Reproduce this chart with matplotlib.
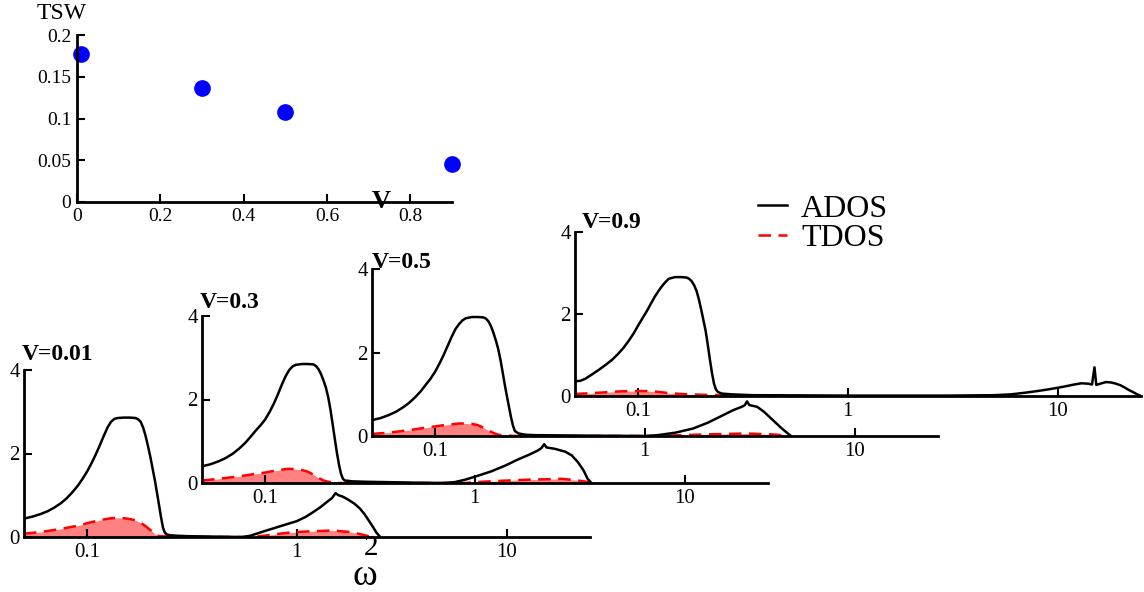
import matplotlib
matplotlib.use("Agg")
import matplotlib.pyplot as plt
from matplotlib.lines import Line2D
from matplotlib.ticker import FixedLocator, NullLocator

plt.rcParams['font.family'] = ['Liberation Serif', 'DejaVu Serif']

# ---- TSW vs V ----
v_vals = [0.01, 0.3, 0.5, 0.9]
tsw_vals = [0.177, 0.136, 0.108, 0.045]

# ---- V = 0.01 ----
w_ados_001 = [0.05, 0.055, 0.06, 0.065, 0.07, 0.075, 0.08, 0.085, 0.09, 0.095, 0.1, 0.105, 0.11,
              0.115, 0.12, 0.125, 0.13, 0.135, 0.14, 0.15, 0.16, 0.17, 0.175, 0.18, 0.185, 0.19,
              0.195, 0.2, 0.205, 0.21, 0.215, 0.22, 0.225, 0.23, 0.235, 0.24, 0.25, 0.27, 0.3, 0.4,
              0.55, 0.6, 0.7, 0.8, 0.9, 1.0, 1.1, 1.2, 1.3, 1.4, 1.47, 1.53, 1.58, 1.65, 1.75, 1.88,
              2.0, 2.1, 2.2, 2.3, 2.4, 2.5]
ados_001 = [0.44, 0.49, 0.55, 0.62, 0.71, 0.81, 0.93, 1.07, 1.22, 1.39, 1.57, 1.77, 1.98,
            2.2, 2.42, 2.62, 2.76, 2.83, 2.85, 2.86, 2.86, 2.85, 2.82, 2.76, 2.62, 2.42,
            2.18, 1.93, 1.65, 1.38, 1.08, 0.78, 0.48, 0.22, 0.1, 0.06, 0.04, 0.03, 0.02, 0.01,
            0.0, 0.03, 0.14, 0.23, 0.31, 0.38, 0.48, 0.6, 0.72, 0.85, 0.93, 1.05, 1.0, 0.97, 0.9, 0.8,
            0.68, 0.55, 0.4, 0.25, 0.1, 0.0]
w_tdos_001 = [0.05, 0.06, 0.07, 0.08, 0.09, 0.1, 0.11, 0.12, 0.13, 0.14, 0.15, 0.16, 0.17, 0.18,
              0.19, 0.2, 0.21, 0.22, 0.3, 0.6, 0.7, 0.8, 0.9, 1.0, 1.2, 1.4, 1.5, 1.6, 1.8, 2.0,
              2.2, 2.35]
tdos_001 = [0.08, 0.12, 0.17, 0.22, 0.27, 0.33, 0.38, 0.42, 0.45, 0.46, 0.45, 0.43, 0.4, 0.34,
            0.26, 0.17, 0.08, 0.02, 0.0, 0.0, 0.03, 0.07, 0.1, 0.12, 0.14, 0.15, 0.16, 0.14, 0.12, 0.07,
            0.02, 0.0]

# ---- V = 0.3 ----
w_ados_03 = [0.05, 0.055, 0.06, 0.065, 0.07, 0.075, 0.08, 0.085, 0.09, 0.095, 0.1, 0.105, 0.11,
             0.115, 0.12, 0.125, 0.13, 0.135, 0.14, 0.15, 0.16, 0.17, 0.175, 0.18, 0.185, 0.19,
             0.195, 0.2, 0.205, 0.21, 0.215, 0.22, 0.225, 0.23, 0.235, 0.24, 0.26, 0.3, 0.5, 0.7,
             0.8, 0.9, 1.0, 1.2, 1.4, 1.6, 1.8, 2.0, 2.08, 2.14, 2.2, 2.4, 2.7, 2.9, 3.1, 3.3,
             3.45, 3.6]
ados_03 = [0.4, 0.45, 0.52, 0.6, 0.7, 0.82, 0.95, 1.1, 1.25, 1.38, 1.52, 1.7, 1.9,
           2.12, 2.35, 2.55, 2.7, 2.79, 2.83, 2.85, 2.85, 2.84, 2.8, 2.72, 2.6, 2.45,
           2.28, 2.05, 1.75, 1.4, 1.05, 0.72, 0.44, 0.22, 0.1, 0.06, 0.04, 0.03, 0.01, 0.0,
           0.02, 0.08, 0.15, 0.28, 0.42, 0.56, 0.67, 0.78, 0.84, 0.93, 0.85, 0.82, 0.75, 0.66, 0.5, 0.3,
           0.1, 0.0]
w_tdos_03 = [0.05, 0.06, 0.07, 0.08, 0.09, 0.1, 0.11, 0.12, 0.13, 0.14, 0.15, 0.16, 0.17, 0.18,
             0.19, 0.2, 0.22, 0.9, 1.0, 1.3, 1.8, 2.2, 2.6, 3.0, 3.4, 3.6]
tdos_03 = [0.06, 0.1, 0.14, 0.18, 0.22, 0.25, 0.29, 0.32, 0.34, 0.33, 0.31, 0.27, 0.2, 0.12,
           0.06, 0.03, 0.0, 0.0, 0.02, 0.05, 0.08, 0.09, 0.1, 0.07, 0.03, 0.0]

# ---- V = 0.5 ----
w_ados_05 = [0.05, 0.055, 0.06, 0.065, 0.07, 0.075, 0.08, 0.085, 0.09, 0.095, 0.1, 0.105, 0.11,
             0.115, 0.12, 0.125, 0.13, 0.135, 0.14, 0.15, 0.16, 0.17, 0.175, 0.18, 0.185, 0.19,
             0.195, 0.2, 0.205, 0.21, 0.215, 0.22, 0.225, 0.23, 0.235, 0.24, 0.25, 0.27, 0.3, 0.5,
             1.0, 1.15, 1.4, 1.7, 2.0, 2.3, 2.64, 2.9, 3.0, 3.07, 3.15, 3.43, 3.7, 4.08, 4.5, 4.97]
ados_05 = [0.38, 0.43, 0.5, 0.58, 0.68, 0.79, 0.92, 1.06, 1.22, 1.37, 1.54, 1.74, 1.95,
           2.17, 2.38, 2.56, 2.68, 2.77, 2.82, 2.85, 2.85, 2.84, 2.81, 2.74, 2.62, 2.46,
           2.28, 2.08, 1.82, 1.52, 1.22, 0.95, 0.7, 0.45, 0.25, 0.12, 0.06, 0.03, 0.02, 0.01,
           0.0, 0.02, 0.08, 0.18, 0.32, 0.47, 0.62, 0.7, 0.74, 0.83, 0.74, 0.7, 0.58, 0.38, 0.18, 0.0]
w_tdos_05 = [0.05, 0.06, 0.07, 0.08, 0.09, 0.1, 0.11, 0.12, 0.13, 0.14, 0.15, 0.16, 0.17, 0.18,
             0.19, 0.2, 0.22, 0.25, 1.1, 1.5, 2.0, 2.5, 3.0, 4.0, 4.8, 5.0]
tdos_05 = [0.05, 0.08, 0.12, 0.16, 0.2, 0.23, 0.26, 0.28, 0.3, 0.3, 0.29, 0.26, 0.2, 0.13,
           0.07, 0.03, 0.01, 0.0, 0.0, 0.02, 0.04, 0.05, 0.06, 0.04, 0.01, 0.0]

# ---- V = 0.9 ----
w_ados_09 = [0.05, 0.053, 0.056, 0.06, 0.065, 0.07, 0.075, 0.08, 0.085, 0.09, 0.095, 0.1, 0.105,
             0.11, 0.115, 0.12, 0.125, 0.13, 0.135, 0.14, 0.15, 0.16, 0.17, 0.175, 0.18, 0.185,
             0.19, 0.195, 0.2, 0.205, 0.21, 0.215, 0.22, 0.225, 0.23, 0.235, 0.24, 0.25, 0.28, 0.35,
             1.0, 3.0, 5.0, 6.0, 7.0, 8.0, 9.0, 10.0, 11.0, 12.0, 13.0, 14.0, 14.6, 15.0, 15.3,
             16.0, 17.0, 18.0, 19.0, 20.0, 21.0, 22.0, 23.0, 24.0, 25.0]
ados_09 = [0.36, 0.37, 0.42, 0.52, 0.64, 0.76, 0.88, 1.02, 1.17, 1.34, 1.52, 1.72, 1.9,
           2.07, 2.25, 2.42, 2.56, 2.68, 2.78, 2.86, 2.9, 2.9, 2.89, 2.86, 2.8, 2.7,
           2.56, 2.35, 2.1, 1.84, 1.58, 1.24, 0.88, 0.56, 0.3, 0.16, 0.1, 0.06, 0.04, 0.02,
           0.01, 0.01, 0.02, 0.04, 0.08, 0.12, 0.16, 0.2, 0.24, 0.28, 0.31, 0.3, 0.28, 0.7, 0.27,
           0.3, 0.34, 0.33, 0.3, 0.26, 0.2, 0.14, 0.09, 0.04, 0.0]
w_tdos_09 = [0.05, 0.06, 0.07, 0.08, 0.09, 0.1, 0.11, 0.12, 0.13, 0.14, 0.16, 0.18, 0.2, 0.25,
             0.3, 0.6]
tdos_09 = [0.05, 0.07, 0.09, 0.11, 0.12, 0.12, 0.12, 0.11, 0.09, 0.07, 0.05, 0.04, 0.03, 0.02,
           0.01, 0.0]

panel_labels = ["V=0.01", "V=0.3", "V=0.5", "V=0.9"]
panels = [
    (w_ados_001, ados_001, w_tdos_001, tdos_001),
    (w_ados_03, ados_03, w_tdos_03, tdos_03),
    (w_ados_05, ados_05, w_tdos_05, tdos_05),
    (w_ados_09, ados_09, w_tdos_09, tdos_09),
]

W, H = 1144, 592


def px_axes(left, right, bottom, top):
    return fig.add_axes([left / W, 1 - bottom / H, (right - left) / W, (bottom - top) / H])


def style(ax, size):
    ax.set_facecolor('none')
    for s in ['top', 'right']:
        ax.spines[s].set_visible(False)
    for s in ['left', 'bottom']:
        ax.spines[s].set_linewidth(2)
    ax.tick_params(direction='in', length=6, width=1.5, labelsize=size, pad=4)


fig = plt.figure(figsize=(W / 100, H / 100), dpi=100)

# top panel
ax0 = px_axes(77, 452, 202, 35)
style(ax0, 14)
ax0.plot(v_vals, tsw_vals, 'o', color='#0000ff', markersize=11, clip_on=False)
ax0.set_xlim(0, 0.9)
ax0.set_ylim(0, 0.2)
ax0.set_xticks([0, 0.2, 0.4, 0.6, 0.8])
ax0.set_xticklabels(['0', '0.2', '0.4', '0.6', '0.8'])
ax0.set_yticks([0, 0.05, 0.1, 0.15, 0.2])
ax0.set_yticklabels(['0', '0.05', '0.1', '0.15', '0.2'])
ax0.set_xlabel('V', fontsize=19, fontweight='bold', va='center')
ax0.xaxis.set_label_coords(0.81, 0.0)
ax0.set_ylabel('TSW', fontsize=17, rotation=0, ha='center', va='center')
ax0.yaxis.set_label_coords(-0.04, 1.13)

# DOS panels (left, right, bottom, top in pixels)
boxes = [(24, 590, 537, 370), (202, 768, 483, 316), (372, 938, 436, 269), (575, 1141, 396, 232)]
label_pos = [(-0.004, 1.09), (-0.004, 1.08), (0.0, 1.04), (0.012, 1.06)]

axes = []
for (wa, a, wt, t), box, lab, lp in zip(panels, boxes, panel_labels, label_pos):
    ax = px_axes(*box)
    style(ax, 15)
    ax.fill_between(wt, t, 0, color='#ff8080', lw=0)
    ax.plot(wt, t, color='#ff0000', lw=1.8, ls=(0, (5, 3)))
    ax.plot(wa, a, color='black', lw=1.8)
    ax.set_xscale('log')
    ax.set_xlim(0.05, 25)
    ax.set_ylim(0, 4)
    ax.xaxis.set_major_locator(FixedLocator([0.1, 1, 10]))
    ax.xaxis.set_minor_locator(NullLocator())
    ax.set_xticklabels(['0.1', '1', '10'])
    ax.set_yticks([0, 2, 4])
    ax.set_yticklabels(['0', '2', '4'])
    ax.tick_params(axis='y', pad=3)
    ax.text(lp[0], lp[1], lab, transform=ax.transAxes, fontsize=17, fontweight='bold',
            ha='left', va='center')
    axes.append(ax)

axA = axes[0]
axA.set_xlabel('ω', fontsize=27, va='center')
axA.xaxis.set_label_coords(0.6025, -0.235)
axA.text(0.613, -0.068, '2', transform=axA.transAxes, fontsize=21, ha='center', va='center')

handles = [Line2D([], [], color='black', lw=1.8),
           Line2D([], [], color='#ff0000', lw=1.8, ls=(0, (5, 3)))]
fig.legend(handles, ['ADOS', 'TDOS'], loc='upper left', bbox_to_anchor=(0.6625, 0.672),
           frameon=False, fontsize=23, handlelength=0.9, handletextpad=0.45,
           labelspacing=0.0, borderpad=0, borderaxespad=0)

fig.savefig('out.png', dpi=100)
